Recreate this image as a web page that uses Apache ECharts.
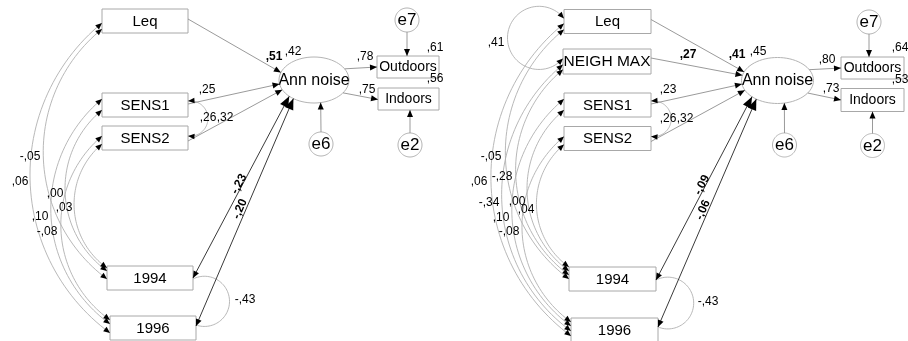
<!DOCTYPE html>
<html><head><meta charset="utf-8">
<script src="https://cdn.jsdelivr.net/npm/echarts@6/dist/echarts.min.js"></script>
<style>html,body{margin:0;padding:0;background:#fff}#c{width:908px;height:341px}</style>
</head><body><div id="c"></div>
<script>
// ================= VALUES =================
const observedA = ['Leq','SENS1','SENS2','1994','1996','Outdoors','Indoors'];
const observedB = ['Leq','NEIGH MAX','SENS1','SENS2','1994','1996','Outdoors','Indoors'];
const latentVars = ['Ann noise'];
const errorVars = ['e7','e6','e2'];

// Model A (left)
const regPathsA = [['Leq','Ann noise'],['SENS1','Ann noise'],['SENS2','Ann noise'],['Ann noise','Outdoors'],['Ann noise','Indoors'],['e7','Outdoors'],['e6','Ann noise'],['e2','Indoors']];
const regEstA = [',51',',25',',32',',78',',75','','',''];
const corrPathsA = [['1994','Ann noise'],['1996','Ann noise']];
const corrEstA = ['-,23','-,20'];
const covPathsA = [['Leq','1994'],['Leq','1996'],['SENS1','1994'],['SENS1','1996'],['SENS2','1994'],['SENS2','1996'],['SENS1','SENS2'],['1994','1996']];
const covEstA = ['-,05',',06',',00',',10',',03','-,08',',26','-,43'];
const r2VarsA = ['Ann noise','Outdoors','Indoors'];
const r2EstA = [',42',',61',',56'];

// Model B (right)
const regPathsB = [['Leq','Ann noise'],['NEIGH MAX','Ann noise'],['SENS1','Ann noise'],['SENS2','Ann noise'],['Ann noise','Outdoors'],['Ann noise','Indoors'],['e7','Outdoors'],['e6','Ann noise'],['e2','Indoors']];
const regEstB = [',41',',27',',23',',32',',80',',73','','',''];
const corrPathsB = [['1994','Ann noise'],['1996','Ann noise']];
const corrEstB = ['-,09','-,06'];
const covPathsB = [['Leq','NEIGH MAX'],['Leq','1994'],['Leq','1996'],['NEIGH MAX','1994'],['NEIGH MAX','1996'],['SENS1','1994'],['SENS1','1996'],['SENS2','1994'],['SENS2','1996'],['SENS1','SENS2'],['1994','1996']];
const covEstB = [',41','-,05',',06','-,28','-,34',',00',',10',',04','-,08',',26','-,43'];
const r2VarsB = ['Ann noise','Outdoors','Indoors'];
const r2EstB = [',45',',64',',53'];

// ================= LAYOUT (positions / sizes / styles) =================
const layoutA = {
  nodes: {
    'Leq':['rect',145,21,86,24], 'SENS1':['rect',145,105,86,24], 'SENS2':['rect',145,138,86,24],
    '1994':['rect',150,278,86,24], '1996':['rect',153,328,86,24],
    'Ann noise':['ellipse',314,80,35,23],
    'Outdoors':['rect',408,67,62,22], 'Indoors':['rect',408.5,99,61,22],
    'e7':['circle',407,20,12], 'e6':['circle',321,144,12], 'e2':['circle',410,145,12]
  },
  reg: [ [['R',-2],['E',199],[274,57],1], [['R',-1],['E',170],[207,90],0], [['R',3],['E',155],[225,118],0],
         [['E',-29],['L',0],[365,57],0], [['E',34],['L',0.5],[367,90],0],
         [['E',90],['T',-1],null,0], [['E',-90],['E',79],null,0], [['E',-90],['B',1.5],null,0] ],
  corr: [ [['R',0],['E',135],[239,184]], [['R',-2],['E',126],[240,209]] ],
  cov: [ [['L',8],['L',1],'W',0.245,[30,157],1], [['L',2],['L',5],'W',0.245,[20,182],1],
         [['L',5],['L',-7],'W',0.245,[55,194],1], [['L',-6],['L',-4],'W',0.245,[40,217],1],
         [['L',6],['L',-10],'W',0.245,[64,208],1], [['L',-2],['L',-8],'W',0.245,[47,232],1],
         [['R',-4],['R',-2],'E',0.57,[208,118],1], [['R',1],['R',-3],'E',0.76,[245,300],0] ],
  r2: [[293,52],[435,48],[435,79]]
};
const layoutB = {
  nodes: {
    'Leq':['rect',607.5,21.5,87,24], 'NEIGH MAX':['rect',607,61.5,88,25],
    'SENS1':['rect',607.5,105,87,24], 'SENS2':['rect',607.5,138.5,87,24],
    '1994':['rect',612.5,279,87,24], '1996':['rect',614.5,330,87,24],
    'Ann noise':['ellipse',777.5,80.5,36,23],
    'Outdoors':['rect',872.5,68,63,22], 'Indoors':['rect',872.5,100,63,23],
    'e7':['circle',869,22,12], 'e6':['circle',784.5,145,12], 'e2':['circle',872.5,145.5,12]
  },
  reg: [ [['R',-2],['E',202],[737,55],1], [['R',-3.5],['E',193],[688,55],1], [['R',-1],['E',171],[668,90],0], [['R',3],['E',155],[685,119],0],
         [['E',-28],['L',0],[827,60],0], [['E',33],['L',0],[831,89],0],
         [['E',90],['T',-3.5],null,0], [['E',-90],['E',79],null,0], [['E',-90],['B',0],null,0] ],
  corr: [ [['R',1],['E',135],[702,185]], [['R',-3],['E',126],[703,210]] ],
  cov: [ [['L',-3],['L',-3],'W',1.4,[496,43],1],
         [['L',8],['L',0],'W',0.245,[491,157],1], [['L',2],['L',6],'W',0.245,[479,182],1],
         [['L',8],['L',-4],'W',0.245,[502,177],1], [['L',3],['L',1],'W',0.245,[489,203],1],
         [['L',5],['L',-8],'W',0.245,[517,202],1], [['L',-6],['L',-4],'W',0.245,[501,218],1],
         [['L',6],['L',-12],'W',0.245,[526,210],1], [['L',-2],['L',-8],'W',0.245,[509,232],1],
         [['R',-4],['R',-2],'E',0.57,[668,119],1], [['R',1],['R',-3],'E',0.78,[708,302],0] ],
  r2: [[758,52],[900,48],[900,80]]
};
const FONT = '"Liberation Sans", Arial, sans-serif';
const nodeFont = {'Leq':15,'NEIGH MAX':15.5,'SENS1':15,'SENS2':15,'1994':15,'1996':15,'Ann noise':16,'Outdoors':14,'Indoors':14,'e7':17,'e6':17,'e2':17};
const COL = {box:'#a8a8a8', ell:'#b4b4b4', reg:'#8e8e8e', cov:'#b0b0b0', corr:'#3a3a3a', arrow:'#000', text:'#000'};

// ================= GEOMETRY (data space) =================
function anchor(node, a){
  const k=node[0], cx=node[1], cy=node[2];
  if(k==='rect'){
    const w=node[3], h=node[4];
    if(a[0]==='L') return [cx-w/2, cy+a[1]];
    if(a[0]==='R') return [cx+w/2, cy+a[1]];
    if(a[0]==='T') return [cx+a[1], cy-h/2];
    return [cx+a[1], cy+h/2];
  }
  const rx=node[3], ry=(k==='circle')?node[3]:node[4];
  const t=a[1]*Math.PI/180;
  return [cx+rx*Math.cos(t), cy+ry*Math.sin(t)];
}
function arcPts(p0,p1,side,ratio){
  const dx=p1[0]-p0[0], dy=p1[1]-p0[1], c=Math.hypot(dx,dy);
  let nx=-dy/c, ny=dx/c;
  if((side==='W'&&nx>0)||(side==='E'&&nx<0)){nx=-nx;ny=-ny;}
  const h=ratio*c, R=(c*c/4+h*h)/(2*h);
  const mx=(p0[0]+p1[0])/2, my=(p0[1]+p1[1])/2;
  const cx=mx+nx*(h-R), cy=my+ny*(h-R);
  const a0=Math.atan2(p0[1]-cy,p0[0]-cx), a1=Math.atan2(p1[1]-cy,p1[0]-cx), aA=Math.atan2(ny,nx);
  const norm=a=>{while(a>Math.PI)a-=2*Math.PI;while(a<=-Math.PI)a+=2*Math.PI;return a;};
  let s=norm(a1-a0); const sa=norm(aA-a0);
  if(!(Math.sign(sa)===Math.sign(s) && Math.abs(sa)<Math.abs(s))) s = s - Math.sign(s)*2*Math.PI;
  const pts=[]; const N=60;
  for(let i=0;i<=N;i++){const a=a0+s*i/N; pts.push([cx+R*Math.cos(a), cy+R*Math.sin(a)]);}
  pts[0]=p0; pts[N]=p1;
  return pts;
}
function arrowHead(tip, from, L, Wd){
  const dx=tip[0]-from[0], dy=tip[1]-from[1], d=Math.hypot(dx,dy)||1;
  const ux=dx/d, uy=dy/d, px=-uy, py=ux;
  return [tip, [tip[0]-ux*L+px*Wd, tip[1]-uy*L+py*Wd], [tip[0]-ux*L-px*Wd, tip[1]-uy*L-py*Wd]];
}

const prims = [];
function buildPanel(lay, observed, regPaths, regEst, corrPaths, corrEst, covPaths, covEst, r2Vars, r2Est){
  const N = lay.nodes;
  const lines=[], heads=[], labels=[];
  covPaths.forEach((pr,i)=>{
    const L=lay.cov[i];
    const p0=anchor(N[pr[0]],L[0]), p1=anchor(N[pr[1]],L[1]);
    const pts=arcPts(p0,p1,L[2],L[3]);
    lines.push({t:'polyline', pts, style:{stroke:COL.cov, lineWidth:0.9, fill:null}});
    if(L[5]){
      heads.push({t:'polygon', pts:arrowHead(pts[0], pts[2], 6.5, 2.8), style:{fill:COL.arrow}});
      heads.push({t:'polygon', pts:arrowHead(pts[pts.length-1], pts[pts.length-3], 6.5, 2.8), style:{fill:COL.arrow}});
    }
    labels.push({t:'text', x:L[4][0], y:L[4][1], text:covEst[i], font:'12px '+FONT});
  });
  regPaths.forEach((pr,i)=>{
    const L=lay.reg[i];
    const p0=anchor(N[pr[0]],L[0]), p1=anchor(N[pr[1]],L[1]);
    lines.push({t:'polyline', pts:[p0,p1], style:{stroke:COL.reg, lineWidth:0.9, fill:null}});
    heads.push({t:'polygon', pts:arrowHead(p1,p0,7,3), style:{fill:COL.arrow}});
    if(L[2] && regEst[i]) labels.push({t:'text', x:L[2][0], y:L[2][1], text:regEst[i], font:(L[3]?'bold ':'')+'12px '+FONT});
  });
  corrPaths.forEach((pr,i)=>{
    const L=lay.corr[i];
    const p0=anchor(N[pr[0]],L[0]), p1=anchor(N[pr[1]],L[1]);
    lines.push({t:'polyline', pts:[p0,p1], style:{stroke:COL.corr, lineWidth:1, fill:null}});
    heads.push({t:'polygon', pts:arrowHead(p1,p0,11,4.5), style:{fill:COL.arrow}});
    heads.push({t:'polygon', pts:arrowHead(p0,p1,7,3), style:{fill:COL.arrow}});
    labels.push({t:'text', x:L[2][0], y:L[2][1], text:corrEst[i], font:'bold 12px '+FONT, dir:[p0,p1]});
  });
  r2Vars.forEach((v,i)=>{
    labels.push({t:'text', x:lay.r2[i][0], y:lay.r2[i][1], text:r2Est[i], font:'12px '+FONT});
  });
  const nodeNames = observed.concat(latentVars, errorVars);
  nodeNames.forEach(nm=>{
    const n=N[nm];
    if(n[0]==='rect'){
      prims.push({t:'rect', x:n[1]-n[3]/2, y:n[2]-n[4]/2, w:n[3], h:n[4], style:{fill:'#fff', stroke:COL.box, lineWidth:1}});
    } else {
      const rx=n[3], ry=n[0]==='circle'?n[3]:n[4], pts=[];
      for(let k=0;k<72;k++){const a=k/72*2*Math.PI; pts.push([n[1]+rx*Math.cos(a), n[2]+ry*Math.sin(a)]);}
      prims.push({t:'polygon', pts, style:{fill:'#fff', stroke:COL.ell, lineWidth:1}});
    }
    prims.push({t:'text', x:n[1], y:n[2]+0.5, text:nm, font:nodeFont[nm]+'px '+FONT});
  });
  lines.forEach(p=>prims.push(p));
  heads.forEach(p=>prims.push(p));
  labels.forEach(p=>prims.push(p));
}
buildPanel(layoutA, observedA, regPathsA, regEstA, corrPathsA, corrEstA, covPathsA, covEstA, r2VarsA, r2EstA);
buildPanel(layoutB, observedB, regPathsB, regEstB, corrPathsB, corrEstB, covPathsB, covEstB, r2VarsB, r2EstB);

// ================= CHART =================
const chart = echarts.init(document.getElementById('c'), null, {renderer:'canvas'});
chart.setOption({
  animation:false,
  backgroundColor:'#fff',
  grid:{left:0,right:0,top:0,bottom:0},
  xAxis:{type:'value',min:0,max:908,show:false},
  yAxis:{type:'value',min:0,max:341,inverse:true,show:false},
  series:[{
    type:'custom', silent:true, clip:false,
    data: prims.map((p,i)=>[i]),
    renderItem:function(params, api){
      const e=prims[params.dataIndex];
      if(e.t==='rect'){
        const a=api.coord([e.x,e.y]), b=api.coord([e.x+e.w,e.y+e.h]);
        return {type:'rect', shape:{x:Math.min(a[0],b[0]), y:Math.min(a[1],b[1]), width:Math.abs(b[0]-a[0]), height:Math.abs(b[1]-a[1])}, style:e.style};
      }
      if(e.t==='polyline') return {type:'polyline', shape:{points:e.pts.map(p=>api.coord(p))}, style:e.style};
      if(e.t==='polygon') return {type:'polygon', shape:{points:e.pts.map(p=>api.coord(p))}, style:e.style};
      const p=api.coord([e.x,e.y]);
      let rot=0;
      if(e.dir){const a=api.coord(e.dir[0]), b=api.coord(e.dir[1]); rot=Math.atan2(-(b[1]-a[1]), b[0]-a[0]);}
      return {type:'text', x:p[0], y:p[1], rotation:rot,
        style:{text:e.text, font:e.font, fill:COL.text, align:'center', verticalAlign:'middle', textAlign:'center', textVerticalAlign:'middle'}};
    }
  }]
});
</script></body></html>
